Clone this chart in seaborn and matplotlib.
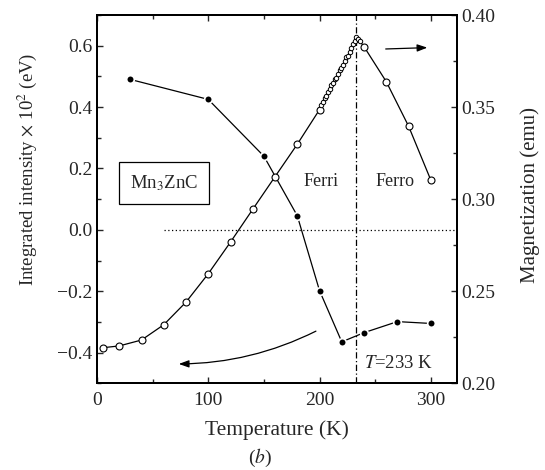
import matplotlib
matplotlib.use("Agg")
import matplotlib.pyplot as plt
import seaborn as sns
from matplotlib.ticker import MultipleLocator

# integrated intensity (filled circles, left axis)
temp_int = [30, 100, 150, 180, 200, 220, 240, 270, 300]
intensity = [0.49, 0.425, 0.24, 0.046, -0.198, -0.365, -0.335, -0.299, -0.305]

# magnetization (open circles, right axis)
temp_mag = [5, 20, 40, 60, 80, 100, 120, 140, 160, 180, 200, 240, 260, 280, 300]
magnet = [0.2193, 0.2203, 0.2235, 0.2318, 0.2441, 0.2595, 0.2767, 0.2945,
          0.3122, 0.3298, 0.3486, 0.3828, 0.3638, 0.3397, 0.3104]

# dense measurements close to the transition
temp_dense = [201.5, 203, 204.5, 206, 207.5, 209, 210.5, 212, 213.5, 215, 216.5,
              218, 219.5, 221, 222.5, 224, 225.5, 227, 228.5, 230, 231.5, 233,
              234.5, 236]
magnet_dense = [0.351, 0.353, 0.355, 0.356, 0.358, 0.360, 0.362, 0.363, 0.365,
                0.366, 0.368, 0.370, 0.371, 0.373, 0.375, 0.377, 0.378, 0.380,
                0.382, 0.384, 0.386, 0.388, 0.387, 0.386]

t_curie = 233

sns.set_theme(style="ticks")
plt.rcParams['font.family'] = ['Liberation Serif', 'DejaVu Serif']
plt.rcParams['mathtext.fontset'] = 'stix'

fig = plt.figure(figsize=(5.45, 4.70), dpi=100)
ax = fig.add_axes([97 / 545, 1 - 383.3 / 470, 359.7 / 545, 368.3 / 470])
ax2 = ax.twinx()

# intensity curve
sns.lineplot(x=temp_int, y=intensity, ax=ax, color='black', lw=0.9, sort=False)
ax.plot(temp_int, intensity, 'o', color='black', ms=5.5, mec='white', mew=1.2, zorder=3)

# magnetization curve
all_t = temp_mag[:11] + temp_dense + temp_mag[11:]
all_m = magnet[:11] + magnet_dense + magnet[11:]
sns.lineplot(x=all_t, y=all_m, ax=ax2, color='black', lw=0.9, sort=False)
ax2.plot(temp_mag, magnet, 'o', mfc='white', mec='black', ms=5, mew=0.8, zorder=3)
ax2.plot(temp_dense, magnet_dense, 'o', mfc='white', mec='black', ms=3.2, mew=0.7, zorder=3)

ax.set_xlim(0, 323.3)
ax.set_ylim(-0.5, 0.7)
ax2.set_ylim(0.20, 0.40)

ax.axvline(t_curie, color='black', lw=0.9, ls=(0, (5, 2, 1, 2)))
ax.axhline(0, xmin=60 / 323.3, color='black', lw=0.9, ls=(0, (1, 2)))

# arrows
ax.annotate('', xy=(71, -0.437), xytext=(199, -0.326),
            arrowprops=dict(arrowstyle='-|>,head_length=0.5,head_width=0.18',
                            color='black', lw=0.9, connectionstyle='arc3,rad=-0.12'))
ax.annotate('', xy=(299.4, 0.594), xytext=(257, 0.589),
            arrowprops=dict(arrowstyle='-|>,head_length=0.5,head_width=0.18',
                            color='black', lw=0.9))

ax.text(60.4, 0.153, 'Mn$_3$ZnC', fontsize=13.5, ha='center', va='center',
        bbox=dict(boxstyle='square,pad=0.6', fc='white', ec='black', lw=0.9))
ax.text(201.5, 0.157, 'Ferri', fontsize=13, ha='center', va='center')
ax.text(267.6, 0.157, 'Ferro', fontsize=13, ha='center', va='center')
ax.text(271.5, -0.435, '$T$=233 K', fontsize=13.5, ha='center', va='center')

ax.xaxis.set_major_locator(MultipleLocator(100))
ax.xaxis.set_minor_locator(MultipleLocator(50))
ax.yaxis.set_major_locator(MultipleLocator(0.2))
ax.yaxis.set_minor_locator(MultipleLocator(0.1))
ax2.yaxis.set_major_locator(MultipleLocator(0.05))
ax2.yaxis.set_minor_locator(MultipleLocator(0.025))
ax.set_xticks([0, 100, 200, 300])
ax.set_yticks([-0.4, -0.2, 0.0, 0.2, 0.4, 0.6])
ax.set_yticklabels(['\u22120.4', '\u22120.2', '0.0', '0.2', '0.4', '0.6'])
ax2.set_yticklabels(['%.2f' % v for v in ax2.get_yticks()])

ax.tick_params(axis='x', which='both', direction='in', top=True, labelsize=14, pad=6)
ax.tick_params(axis='y', which='both', direction='in', left=True, right=False, labelsize=14)
ax2.tick_params(axis='y', which='both', direction='in', right=True, labelsize=14)
for a in (ax, ax2):
    a.tick_params(which='major', length=4.3, width=1)
    a.tick_params(which='minor', length=2.9, width=1)
    for s in a.spines.values():
        s.set_linewidth(1.4)
        s.set_color('black')

ax.set_xlabel('Temperature (K)', fontsize=15.5)
ax.set_ylabel('Integrated intensity $\\times$ 10$^2$ (eV)', fontsize=13.5)
ax2.set_ylabel('Magnetization (emu)', fontsize=15)
ax.xaxis.set_label_coords(0.5, -0.1)
ax.yaxis.set_label_coords(-0.16, 0.58)
ax2.yaxis.set_label_coords(1.176, 0.51)

fig.text(260 / 545, 1 - 458 / 470, '($b$)', fontsize=14, ha='center', va='center')

fig.savefig('out.png', dpi=100)
